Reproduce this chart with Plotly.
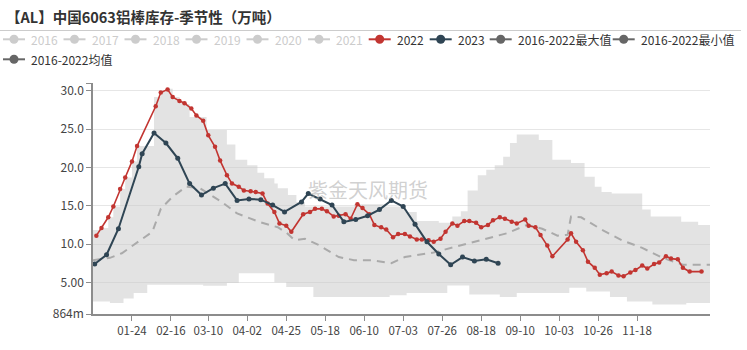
import plotly.graph_objects as go

# ---------------- data ----------------
dates_2022 = ["01-03","01-06","01-10","01-13","01-17","01-20","01-24","01-27","02-07","02-10",
              "02-14","02-17","02-21","02-24","02-28","03-03","03-07","03-10","03-14","03-17",
              "03-21","03-24","03-28","03-31","04-04","04-07","04-11","04-14","04-18","04-21",
              "04-25","04-28","05-05","05-09","05-12","05-16","05-19","05-23","05-26","05-30",
              "06-02","06-06","06-09","06-13","06-16","06-20","06-23","06-27","06-30","07-04",
              "07-07","07-11","07-14","07-18","07-21","07-25","07-28","08-01","08-04","08-08",
              "08-11","08-15","08-18","08-22","08-25","08-29","09-01","09-05","09-08","09-13",
              "09-15","09-19","09-22","09-26","09-29","10-08","10-10","10-13","10-17","10-20",
              "10-24","10-27","10-31","11-03","11-07","11-10","11-14","11-17","11-21","11-24",
              "11-28","12-01","12-05","12-08","12-12","12-15","12-19","12-26"]
vals_2022 = [11.1,12.1,13.5,14.9,17.2,18.7,20.8,22.8,28.0,29.8,
             30.2,29.2,28.7,28.4,27.7,26.8,26.1,24.2,22.7,20.9,
             19.0,17.9,17.5,17.0,16.9,16.8,16.6,15.3,14.2,12.7,
             12.4,11.6,13.9,14.2,14.6,14.6,14.3,13.6,13.7,13.9,
             13.3,15.2,14.7,13.9,12.5,12.2,11.9,10.9,11.3,11.3,
             11.0,10.6,10.6,10.5,10.3,10.7,11.6,12.7,12.4,13.0,
             13.0,12.8,12.2,12.5,13.1,13.5,13.3,12.9,12.7,13.2,
             12.4,12.2,11.2,9.8,8.4,10.6,11.4,10.3,9.2,7.7,
             6.9,6.0,6.2,6.4,5.9,5.8,6.3,6.6,7.2,6.8,
             7.4,7.6,8.4,8.1,8.0,6.9,6.4,6.4]

dates_2023 = ["01-02","01-09","01-16","01-28","01-30","02-06","02-13","02-20","02-27","03-06",
              "03-13","03-20","03-27","04-03","04-10","04-17","04-24","05-04","05-08","05-15",
              "05-22","05-29","06-05","06-12","06-19","06-26","07-03","07-10","07-17","07-24",
              "07-31","08-07","08-14","08-21","08-28"]
vals_2023 = [7.4,8.6,12.0,20.1,21.8,24.5,23.2,21.2,17.9,16.4,
             17.3,17.9,15.7,15.9,15.8,15.1,14.2,15.5,16.6,15.9,
             15.1,12.9,13.2,13.7,14.5,15.7,14.9,12.6,10.3,8.7,
             7.3,8.3,7.8,8.0,7.5]

dates_avg = ["01-01","01-11","01-18","01-28","02-05","02-10","02-17","02-25","03-05","03-18",
             "03-27","04-09","04-20","04-25","04-30","05-06","05-14","05-26","06-04","06-14",
             "06-26","07-04","07-14","07-21","08-02","08-18","09-02","09-14","09-23","10-02",
             "10-08","10-10","10-16","10-28","11-09","11-21","12-03","12-15","12-26","12-31"]
vals_avg = [7.9,8.2,8.8,10.4,11.6,14.6,16.2,17.5,17.3,15.5,
            14.0,12.9,12.2,11.5,10.5,10.7,9.9,8.3,7.9,7.9,
            7.5,8.3,8.6,8.9,9.6,10.5,11.4,12.5,12.0,11.1,
            11.2,13.6,13.5,11.9,10.5,9.5,8.2,7.3,7.3,7.3]

dates_max = ["01-01","01-06","01-10","01-13","01-17","01-20","01-24","01-27","02-06","02-10",
             "02-14","02-17","02-21","02-24","02-27","03-09","03-21","03-26","04-02","04-08",
             "04-12","04-18","04-20","04-26","05-01","05-06","06-04","06-22","07-04","07-11",
             "07-24","08-01","08-06","08-10","08-16","08-21","08-26","08-31","09-04","09-08",
             "09-21","09-29","10-10","10-18","10-24","10-28","11-03","11-21","11-26","12-14",
             "12-24","12-31"]
vals_max = [11.85,12.1,13.5,14.9,17.2,18.7,20.8,22.8,29.2,29.9,
            30.3,29.2,28.7,28.3,26.6,24.9,23.0,21.0,20.3,19.3,
            18.6,17.9,17.3,16.4,15.5,14.9,15.2,14.9,14.2,13.0,
            12.8,13.6,14.3,17.0,19.0,19.7,20.3,21.4,23.2,24.3,
            23.6,21.0,20.6,18.8,17.5,16.8,16.6,14.5,13.6,12.9,
            12.5,12.5]

dates_min = ["01-01","01-11","01-19","01-25","02-02","03-07","03-21","03-28","04-18","04-25",
             "05-11","06-25","07-05","07-29","08-11","08-29","09-08","10-09","10-19","11-02",
             "11-12","11-27","12-17","12-31"]
vals_min = [2.5,2.3,2.9,3.6,4.7,4.55,4.9,6.2,5.0,4.4,
            3.1,3.3,3.6,4.6,3.4,3.1,3.6,4.3,3.8,3.1,
            2.5,2.1,2.3,2.3]

x_tick_labels = ["01-24","02-16","03-10","04-02","04-25","05-18","06-10","07-03",
                 "07-26","08-18","09-10","10-03","10-26","11-18"]
y_tick_vals = [0.864, 5, 10, 15, 20, 25, 30, 31.04]
y_tick_text = ["864m", "5.00", "10.0", "15.0", "20.0", "25.0", "30.0", ""]

legend_names = ["2016","2017","2018","2019","2020","2021","2022","2023",
                "2016-2022最大值","2016-2022最小值","2016-2022均值"]

title_text = "【AL】中国6063铝棒库存-季节性（万吨）"
watermark = "紫金天风期货"

# ---------------- styles ----------------
RED = "#c23531"
BLUE = "#2f4554"
DARK = "#666666"
INACTIVE = "#cccccc"
legend_colors = [INACTIVE]*6 + [RED, BLUE, DARK, DARK, DARK]
legend_text_colors = [INACTIVE]*6 + ["#333333"]*5
FONT = "Noto Sans CJK SC"

def d(lst):
    return ["2022-" + s for s in lst]

fig = go.Figure()
fig.add_trace(go.Scatter(x=d(dates_min), y=vals_min, mode="lines", line=dict(width=0, shape="hv"),
                         showlegend=False, hoverinfo="skip"))
fig.add_trace(go.Scatter(x=d(dates_max), y=vals_max, mode="lines", line=dict(width=0, shape="hv"),
                         fill="tonexty", fillcolor="rgba(200,200,200,0.5)", showlegend=False,
                         hoverinfo="skip"))
fig.add_trace(go.Scatter(x=d(dates_avg), y=vals_avg, mode="lines",
                         line=dict(color="#aaaaaa", width=2, dash="8px,6px"), showlegend=False))
fig.add_trace(go.Scatter(x=d(dates_2022), y=vals_2022, mode="lines+markers",
                         line=dict(color=RED, width=1.6), marker=dict(size=4.5, color=RED),
                         showlegend=False))
fig.add_trace(go.Scatter(x=d(dates_2023), y=vals_2023, mode="lines+markers",
                         line=dict(color=BLUE, width=2), marker=dict(size=5, color=BLUE),
                         showlegend=False))

# layout geometry (pixels)
W, H = 747, 350
L, R, T, B = 93, 37, 83, 36
PW, PH = W - L - R, H - T - B

def px(xp):
    return (xp - L) / PW

def py(yp):
    return (H - B - yp) / PH

shapes = []
annotations = []

# title and separator
annotations.append(dict(x=px(4), y=py(16.5), xref="paper", yref="paper", text=title_text,
                        showarrow=False, xanchor="left", yanchor="middle",
                        font=dict(family=FONT, size=14.5, color="#333333", weight="bold")))
shapes.append(dict(type="line", xref="paper", yref="paper", x0=px(0), x1=px(741), y0=py(30.5), y1=py(30.5),
                   line=dict(color="#cccccc", width=1)))

# manual legend
legend_cx = [14, 74.5, 135.5, 196.5, 257.5, 319, 379.7, 440.7, 500.7, 623.7, 14]
legend_cy = [39.3]*10 + [59.3]
for name, col, tcol, cx, cy in zip(legend_names, legend_colors, legend_text_colors, legend_cx, legend_cy):
    shapes.append(dict(type="line", xref="paper", yref="paper", x0=px(cx - 11), x1=px(cx + 11),
                       y0=py(cy), y1=py(cy), line=dict(color=col, width=2)))
    shapes.append(dict(type="circle", xref="paper", yref="paper", xsizemode="pixel", ysizemode="pixel",
                       xanchor=px(cx), yanchor=py(cy), x0=-4.5, x1=4.5, y0=-4.5, y1=4.5,
                       fillcolor=col, line=dict(color=col, width=0)))
    annotations.append(dict(x=px(cx + 15), y=py(cy), xref="paper", yref="paper", text=name,
                            showarrow=False, xanchor="left", yanchor="middle",
                            font=dict(family=FONT, size=12, color=tcol)))

# watermark
annotations.append(dict(x=px(368), y=py(189), xref="paper", yref="paper", text=watermark,
                        showarrow=False, xanchor="center", yanchor="middle",
                        font=dict(family=FONT, size=20, color="rgba(170,170,170,0.55)")))

fig.update_layout(
    width=W, height=H,
    margin=dict(l=L, r=R, t=T, b=B, pad=0),
    paper_bgcolor="white", plot_bgcolor="white",
    showlegend=False,
    shapes=shapes, annotations=annotations,
    font=dict(family=FONT, size=12, color="#444444"),
)
fig.update_xaxes(
    type="date", range=["2022-01-01", "2022-12-31"],
    tickvals=d(x_tick_labels), ticktext=x_tick_labels,
    showgrid=False, zeroline=False,
    showline=True, linecolor="#8c8c8c", linewidth=1.5,
    ticks="outside", ticklen=5, tickcolor="#8c8c8c",
    tickfont=dict(family=FONT, size=11.5, color="#444444"),
)
fig.update_yaxes(
    range=[0.864, 31.04],
    tickvals=y_tick_vals, ticktext=y_tick_text,
    showgrid=True, gridcolor="#e6e6e6", gridwidth=1, zeroline=False,
    showline=True, linecolor="#8c8c8c", linewidth=1.5,
    ticks="outside", ticklen=5, tickcolor="#8c8c8c",
    tickfont=dict(family=FONT, size=12, color="#444444"),
)

fig.write_html("out.html")
